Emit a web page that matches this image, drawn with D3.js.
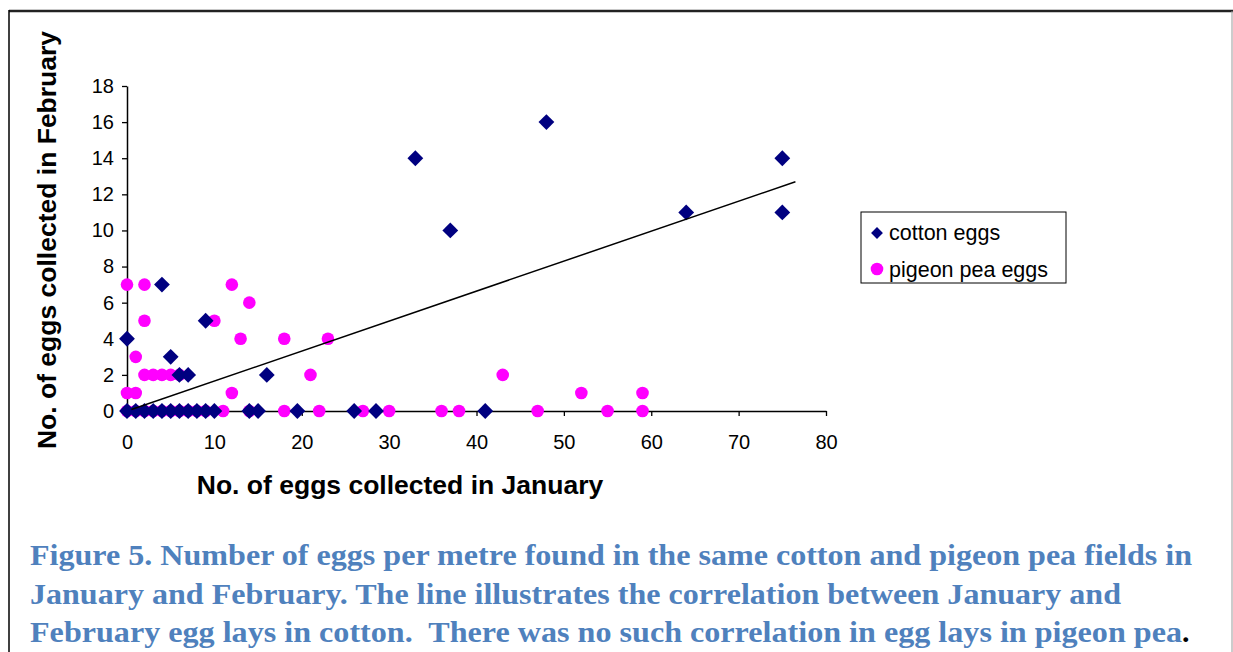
<!DOCTYPE html>
<html>
<head>
<meta charset="utf-8">
<script src="https://cdn.jsdelivr.net/npm/d3@7"></script>
<style>
  html, body { margin: 0; padding: 0; background: #fff; }
  svg { display: block; }
</style>
</head>
<body>
<svg id="chart" width="1233" height="652"></svg>
<script>
// Cotton: January count vs February count per metre
const cottonJan = [0, 0, 1, 2, 3, 4, 5, 6, 7, 8, 9, 10, 14, 15, 19.5, 26, 28.5, 41,
                   4, 9, 5, 6, 7, 16, 33, 37, 48, 64, 75, 75];
const cottonFeb = [4, 0, 0, 0, 0, 0, 0, 0, 0, 0, 0, 0, 0, 0, 0, 0, 0, 0,
                   7, 5, 3, 2, 2, 2, 14, 10, 16, 11, 14, 11];

// Pigeon pea: January count vs February count per metre
const peaJan = [0, 2, 2, 1, 0, 1, 2, 3, 4, 5, 6, 10, 12, 14, 13, 12, 18, 23, 21,
                0, 1, 2, 3, 4, 5, 6, 7, 8, 9, 11, 14, 18, 22, 27, 30, 36, 38, 43, 47, 52, 55, 59, 59];
const peaFeb = [7, 7, 5, 3, 1, 1, 2, 2, 2, 2, 2, 5, 7, 6, 4, 1, 4, 4, 2,
                0, 0, 0, 0, 0, 0, 0, 0, 0, 0, 0, 0, 0, 0, 0, 0, 0, 0, 2, 0, 1, 0, 1, 0];

// Linear trend fitted to the cotton data
const trendSlope = 0.166;
const trendIntercept = 0;
const trendRange = [0.5, 76.5];

const xTicks = [0, 10, 20, 30, 40, 50, 60, 70, 80];
const yTicks = [0, 2, 4, 6, 8, 10, 12, 14, 16, 18];

const seriesNames = ["cotton eggs", "pigeon pea eggs"];
const captionLines = [
  "Figure 5. Number of eggs per metre found in the same cotton and pigeon pea fields in",
  "January and February. The line illustrates the correlation between January and",
  "February egg lays in cotton.  There was no such correlation in egg lays in pigeon pea"
];
const captionWidths = [1162, 1091, 1160];

const svg = d3.select("#chart");
const navy = "#000080", magenta = "#FF00FF";

// Page frame around the figure
svg.append("line").attr("x1", 9).attr("x2", 1233).attr("y1", 11).attr("y2", 11)
  .attr("stroke", "#222").attr("stroke-width", 2.5);
svg.append("line").attr("x1", 9).attr("x2", 9).attr("y1", 10).attr("y2", 652)
  .attr("stroke", "#000").attr("stroke-width", 1.5);
svg.append("line").attr("x1", 1232).attr("x2", 1232).attr("y1", 11).attr("y2", 652)
  .attr("stroke", "#999").attr("stroke-width", 1);

const x = d3.scaleLinear().domain([0, 80]).range([127, 826]);
const y = d3.scaleLinear().domain([0, 18]).range([411, 86]);

const font = "Arial, 'Liberation Sans', sans-serif";

// Axes
const xAxis = svg.append("g").attr("transform", `translate(0,${y(0)})`)
  .call(d3.axisBottom(x).tickValues(xTicks).tickSize(5).tickPadding(19).tickSizeOuter(0));
const yAxis = svg.append("g").attr("transform", `translate(${x(0)},0)`)
  .call(d3.axisLeft(y).tickValues(yTicks).tickSize(5).tickPadding(8).tickSizeOuter(0));
[xAxis, yAxis].forEach(g => {
  g.select(".domain").attr("stroke", "#000").attr("stroke-width", 1.5);
  g.selectAll(".tick line").attr("stroke", "#000").attr("stroke-width", 1.3);
  g.selectAll(".tick text").attr("fill", "#000").style("font-family", font).style("font-size", "20px");
});

// Axis titles
svg.append("text").attr("x", 400).attr("y", 494).attr("text-anchor", "middle")
  .style("font-family", font).style("font-size", "26.5px").style("font-weight", "bold")
  .text("No. of eggs collected in January");
svg.append("text").attr("transform", "translate(56,240) rotate(-90)").attr("text-anchor", "middle")
  .style("font-family", font).style("font-size", "26.5px").style("font-weight", "bold")
  .text("No. of eggs collected in February");

// Pigeon pea points
const peaData = peaJan.map((v, i) => ({ x: v, y: peaFeb[i] }));
svg.append("g").selectAll("circle").data(peaData).join("circle")
  .attr("cx", d => x(d.x)).attr("cy", d => y(d.y)).attr("r", 6.3)
  .attr("fill", magenta);

// Cotton points (diamonds)
const cottonData = cottonJan.map((v, i) => ({ x: v, y: cottonFeb[i] }));
const diamond = d3.symbol().type(d3.symbolSquare).size(125);
svg.append("g").selectAll("path").data(cottonData).join("path")
  .attr("d", diamond)
  .attr("transform", d => `translate(${x(d.x)},${y(d.y)}) rotate(45)`)
  .attr("fill", navy);

// Trend line
svg.append("line")
  .attr("x1", x(trendRange[0])).attr("y1", y(trendIntercept + trendSlope * trendRange[0]))
  .attr("x2", x(trendRange[1])).attr("y2", y(trendIntercept + trendSlope * trendRange[1]))
  .attr("stroke", "#000").attr("stroke-width", 1.5);

// Legend
const legend = svg.append("g");
legend.append("rect").attr("x", 861).attr("y", 212).attr("width", 205).attr("height", 71)
  .attr("fill", "#fff").attr("stroke", "#000").attr("stroke-width", 1);
legend.append("path").attr("d", d3.symbol().type(d3.symbolSquare).size(70))
  .attr("transform", "translate(877,233) rotate(45)").attr("fill", navy);
legend.append("circle").attr("cx", 877).attr("cy", 269).attr("r", 6.3).attr("fill", magenta);
seriesNames.forEach((name, i) => {
  legend.append("text").attr("x", 889).attr("y", 240 + i * 37)
    .style("font-family", font).style("font-size", "21.5px").attr("fill", "#000")
    .text(name);
});

// Figure caption
const cap = svg.append("g");
captionLines.forEach((line, i) => {
  const last = i === captionLines.length - 1;
  const t = cap.append("text").attr("x", 30).attr("y", 565 + i * 38.5)
    .attr("textLength", last ? captionWidths[i] - 8 : captionWidths[i])
    .attr("lengthAdjust", "spacingAndGlyphs")
    .style("white-space", "pre")
    .style("font-family", "'Liberation Serif', 'Times New Roman', serif")
    .style("font-size", "30px").style("font-weight", "bold").attr("fill", "#4F81BD")
    .text(line);
  if (last) {
    cap.append("text").attr("x", 30 + captionWidths[i] - 8).attr("y", 565 + i * 38.5)
      .style("font-family", "'Liberation Serif', 'Times New Roman', serif")
      .style("font-size", "30px").style("font-weight", "bold").attr("fill", "#000")
      .text(".");
  }
});
</script>
</body>
</html>
